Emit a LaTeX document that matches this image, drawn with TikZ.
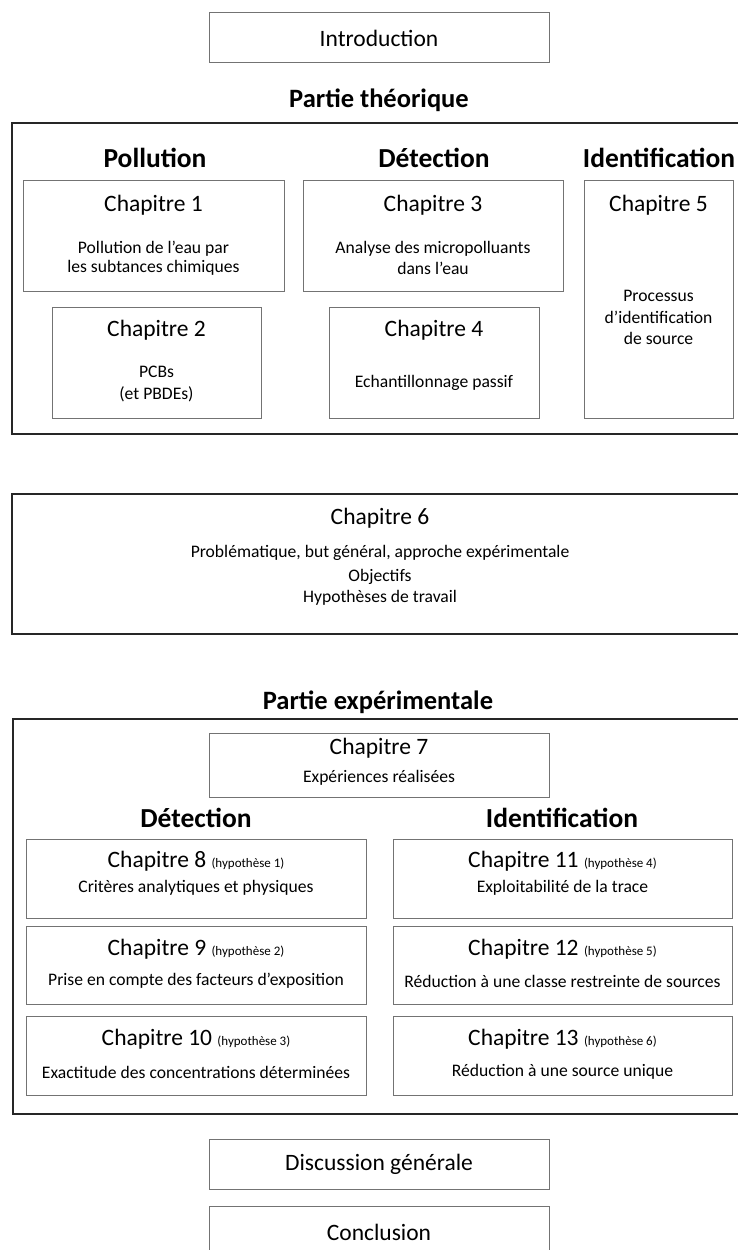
\documentclass[tikz,border=0pt]{standalone}
\usepackage{fontspec}
\setmainfont{Carlito}
\newcommand\hypsz{\fontsize{13}{15}\selectfont}
\begin{document}
\begin{tikzpicture}[x=1pt,y=-1pt,
  inbox/.style={draw=black!55,line width=0.9pt,fill=white},
  outbox/.style={draw=black!85,line width=1.3pt},
  head/.style={font=\bfseries\fontsize{26.5}{30}\selectfont,inner sep=0pt},
  subhead/.style={font=\bfseries\fontsize{27.5}{31}\selectfont,inner sep=0pt},
  ttl/.style={font=\fontsize{23.5}{26}\selectfont,inner sep=0pt},
  txt/.style={font=\fontsize{17.6}{21}\selectfont,inner sep=0pt}]
\useasboundingbox (0,0) rectangle (738,1250);
% Introduction
\draw[inbox] (209,12) rectangle (549,62);
\node[ttl] (intro) at (379,38) {Introduction};
% Partie theorique
\node[head] (pt) at (379,100) {Partie théorique};
\draw[outbox] (12,123) rectangle (760,434);
\node[subhead] (hpol) at (155,158) {Pollution};
\node[subhead] (hdet) at (434,158) {Détection};
\node[subhead] (hid) at (659,158) {Identification};
% Ch1
\draw[inbox] (23,180) rectangle (284,291);
\node[ttl] (c1) at (153.5,205) {Chapitre 1};
\node[txt] (c1a) at (153.5,249) {Pollution de l’eau par};
\node[txt] (c1b) at (153.5,268) {les subtances chimiques};
% Ch3
\draw[inbox] (303,180) rectangle (563,291);
\node[ttl] (c3) at (433,205) {Chapitre 3};
\node[txt] (c3a) at (433,249) {Analyse des micropolluants};
\node[txt] (c3b) at (433,268) {dans l’eau};
% Ch5
\draw[inbox] (584,180) rectangle (733,418);
\node[ttl] (c5) at (658.5,205) {Chapitre 5};
\node[txt] (c5a) at (658.5,296) {Processus};
\node[txt] (c5b) at (658.5,317) {d’identification};
\node[txt] (c5c) at (658.5,338) {de source};
% Ch2
\draw[inbox] (52,307) rectangle (261,418);
\node[ttl] (c2) at (156.5,330) {Chapitre 2};
\node[txt] (c2a) at (156.5,372) {PCBs};
\node[txt] (c2b) at (156.5,394) {(et PBDEs)};
% Ch4
\draw[inbox] (329,307) rectangle (539,418);
\node[ttl] (c4) at (434,330) {Chapitre 4};
\node[txt] (c4a) at (434,383) {Echantillonnage passif};
% Ch6
\draw[outbox] (12,494) rectangle (760,634);
\node[ttl] (c6) at (380,518) {Chapitre 6};
\node[txt] (c6a) at (380,553) {Problématique, but général, approche expérimentale};
\node[txt] (c6b) at (380,577) {Objectifs};
\node[txt] (c6c) at (380,598) {Hypothèses de travail};
% Partie experimentale
\node[head] (pe) at (378,702) {Partie expérimentale};
\draw[outbox] (13,719) rectangle (760,1114);
\draw[inbox] (209,733) rectangle (549,797);
\node[ttl] (c7) at (379,748) {Chapitre 7};
\node[txt] (c7a) at (379,778) {Expériences réalisées};
\node[subhead] (hdet2) at (196,818) {Détection};
\node[subhead] (hid2) at (562,818) {Identification};
% left column
\draw[inbox] (26,839) rectangle (366,918);
\node[ttl] (c8) at (196,861) {Chapitre 8 {\hypsz(hypothèse 1)}};
\node[txt] (c8a) at (196,888) {Critères analytiques et physiques};
\draw[inbox] (26,926) rectangle (366,1004);
\node[ttl] (c9) at (196,949) {Chapitre 9 {\hypsz(hypothèse 2)}};
\node[txt] (c9a) at (196,981) {Prise en compte des facteurs d’exposition};
\draw[inbox] (26,1016) rectangle (366,1095);
\node[ttl] (c10) at (196,1039) {Chapitre 10 {\hypsz(hypothèse 3)}};
\node[txt] (c10a) at (196,1072) {Exactitude des concentrations déterminées};
% right column
\draw[inbox] (393,839) rectangle (732,918);
\node[ttl] (c11) at (562.5,861) {Chapitre 11 {\hypsz(hypothèse 4)}};
\node[txt] (c11a) at (562.5,888) {Exploitabilité de la trace};
\draw[inbox] (393,926) rectangle (732,1004);
\node[ttl] (c12) at (562.5,949) {Chapitre 12 {\hypsz(hypothèse 5)}};
\node[txt] (c12a) at (562.5,981) {Réduction à une classe restreinte de sources};
\draw[inbox] (393,1016) rectangle (732,1095);
\node[ttl] (c13) at (562.5,1039) {Chapitre 13 {\hypsz(hypothèse 6)}};
\node[txt] (c13a) at (562.5,1072) {Réduction à une source unique};
% end
\draw[inbox] (209,1139) rectangle (549,1189);
\node[ttl] (disc) at (379,1164) {Discussion générale};
\draw[inbox] (209,1206) rectangle (549,1256);
\node[ttl] (concl) at (379,1232) {Conclusion};
\end{tikzpicture}
\end{document}
